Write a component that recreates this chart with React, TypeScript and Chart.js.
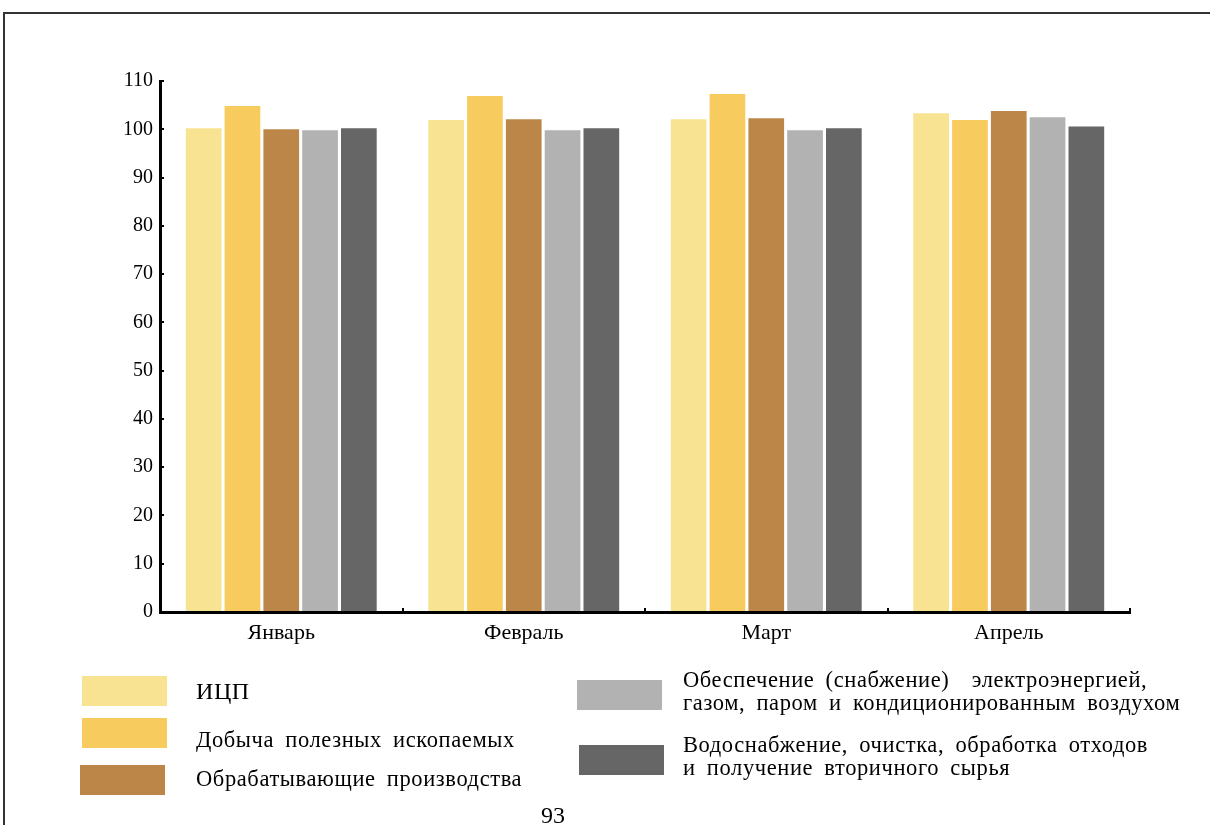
import React, { useEffect, useRef } from "react";
import { Chart, registerables } from "chart.js";

Chart.register(...registerables);

const categories = ["Январь", "Февраль", "Март", "Апрель"];
const icp = [100.2, 101.9, 102.1, 103.3];
const mining = [104.8, 106.9, 107.3, 101.9];
const manufacturing = [100.0, 102.1, 102.3, 103.8];
const electricity = [99.8, 99.8, 99.8, 102.5];
const water = [100.2, 100.2, 100.2, 100.6];

const seriesNames = [
  ["ИЦП"],
  ["Добыча полезных ископаемых"],
  ["Обрабатывающие производства"],
  ["Обеспечение (снабжение)  электроэнергией,", "газом, паром и кондиционированным воздухом"],
  ["Водоснабжение, очистка, обработка отходов", "и получение вторичного сырья"],
];
const seriesValues = [icp, mining, manufacturing, electricity, water];
const colors = ["#F8E392", "#F8CB5F", "#BC8648", "#B2B2B2", "#666666"];
const yTicks = { min: 0, max: 110, step: 10 };

const FONT = "'Liberation Serif', 'DejaVu Serif', serif";

// legend placement (layout only)
const legendPos = [
  { sx: 82, sy: 676, tx: 196, ty: 680 },
  { sx: 82, sy: 718, tx: 196, ty: 728 },
  { sx: 80, sy: 765, tx: 196, ty: 767 },
  { sx: 577, sy: 680, tx: 683, ty: 668 },
  { sx: 579, sy: 745, tx: 683, ty: 733 },
];

export default function App() {
  const ref = useRef<HTMLCanvasElement | null>(null);
  useEffect(() => {
    if (!ref.current) return;
    const chart = new Chart(ref.current, {
      type: "bar",
      data: {
        labels: categories,
        datasets: seriesValues.map((vals, i) => ({
          label: seriesNames[i].join(" "),
          data: vals,
          backgroundColor: colors[i],
          borderWidth: 0,
          categoryPercentage: 0.8,
          barPercentage: 0.92,
        })),
      },
      options: {
        animation: false,
        responsive: false,
        maintainAspectRatio: false,
        layout: { padding: { left: 100, right: 80, top: 81, bottom: 163 } },
        plugins: { legend: { display: false }, tooltip: { enabled: false }, title: { display: false } },
        scales: {
          x: {
            grid: { display: true, drawOnChartArea: false, drawTicks: true, tickLength: -4, color: "#000", lineWidth: 2 },
            border: { display: true, color: "#000", width: 3 },
            ticks: { color: "#000", font: { family: FONT, size: 22 }, padding: 12 },
            afterFit: (s: any) => { s.height = 50; },
          },
          y: {
            min: yTicks.min,
            max: yTicks.max,
            grid: { display: true, drawOnChartArea: false, drawTicks: true, tickLength: -4, color: "#000", lineWidth: 2 },
            border: { display: true, color: "#000", width: 3 },
            ticks: { stepSize: yTicks.step, color: "#000", font: { family: FONT, size: 20 }, padding: 11 },
            afterFit: (s: any) => { s.width = 60; },
          },
        },
      },
    });
    return () => chart.destroy();
  }, []);

  return (
    <div style={{ position: "absolute", left: 0, top: 0, width: 1210, height: 825, overflow: "hidden", background: "#fff", fontFamily: FONT }}>
      <div style={{ position: "absolute", left: 3, top: 12, width: 1220, height: 830, borderTop: "2px solid #333", borderLeft: "2px solid #333" }} />
      <canvas ref={ref} width={1210} height={825} style={{ position: "absolute", left: 0, top: 0, width: 1210, height: 825 }} />
      {seriesNames.map((lines, i) => (
        <React.Fragment key={i}>
          <div style={{ position: "absolute", left: legendPos[i].sx, top: legendPos[i].sy, width: 85, height: 30, background: colors[i] }} />
          <div style={{ position: "absolute", left: legendPos[i].tx, top: legendPos[i].ty, fontSize: i === 0 ? 24 : 22.5, lineHeight: "23px", letterSpacing: "0.6px", wordSpacing: "5px", color: "#000", whiteSpace: "pre" }}>
            {lines.map((l, j) => (<div key={j}>{l}</div>))}
          </div>
        </React.Fragment>
      ))}
      <div style={{ position: "absolute", left: 541, top: 802, fontSize: 24, color: "#000" }}>93</div>
    </div>
  );
}
